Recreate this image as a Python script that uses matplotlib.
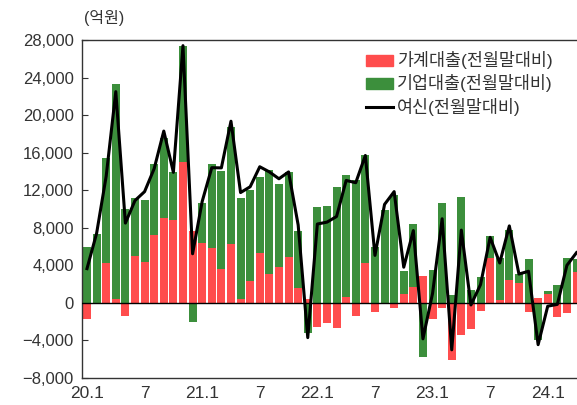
import numpy as np
import matplotlib
matplotlib.use("Agg")
import matplotlib.pyplot as plt
from matplotlib.patches import Patch
from matplotlib.lines import Line2D

plt.rcParams['font.family'] = ['Liberation Sans', 'Noto Sans CJK KR', 'DejaVu Sans']

# monthly change vs previous month-end, 2020.1 - 2024.4 (억원)
household = [-1700, 0, 4200, 400, -1400, 4950, 4400, 7200, 9050, 8800,
             15050, 7700, 6350, 5800, 3650, 6250, 450, 2300, 5300, 3050,
             3850, 4850, 1600, 400, -2600, -2150, -2700, 600, -1350, 4200,
             -970, 0, -550, 960, 1670, 2880, -1700, -530, -6100, -3420,
             -2820, -840, 4800, 270, 2470, 2100, -980, 520, 900, -1500,
             -1050, 3300]
corporate = [5900, 7350, 11200, 22950, 10030, 6230, 6570, 7590, 8550, 5100,
             12350, -2040, 4280, 8950, 10390, 12510, 10710, 9770, 8100, 11130,
             8770, 9080, 6020, -3250, 10200, 10310, 12330, 12980, 13100, 11500,
             5950, 9880, 11500, 2480, 6780, -5720, 3460, 10670, 800, 11230,
             1400, 2750, 2320, 4530, 5330, 950, 4670, -4000, 340, 1870,
             4730, 1420]
credit = [3650, 7400, 13500, 22500, 8500, 10900, 11850, 14300, 18300, 13900,
          27400, 5230, 10800, 14400, 14380, 19350, 11750, 12370, 14500, 13950,
          13220, 13950, 8300, -3700, 8400, 8600, 9200, 13040, 12800, 15700,
          5060, 10490, 11850, 3800, 7700, -3830, 1000, 8960, -5000, 7750,
          -220, 1950, 6980, 4250, 8200, 3070, 3370, -4450, -350, -160,
          4000, 5350]
tick_labels = ["20.1", "7", "21.1", "7", "22.1", "7", "23.1", "7", "24.1"]

RED = "#FF4D4D"
GREEN = "#3C8F3C"

hh = np.array(household, dtype=float)
co = np.array(corporate, dtype=float)
x = np.arange(len(hh))

# stack corporate on top of household only when both have the same sign
co_bottom = np.where(np.sign(hh) == np.sign(co), hh, 0)

fig = plt.figure(figsize=(5.77, 4.05), dpi=100)
ax = fig.add_axes([82 / 577, 27 / 405, 1 - 82 / 577, 338 / 405])

ax.bar(x, hh, width=0.83, color=RED, zorder=2)
ax.bar(x, co, bottom=co_bottom, width=0.83, color=GREEN, zorder=2)
ax.plot(x, credit, color="black", lw=2.2, zorder=4)
ax.axhline(0, color="black", lw=1.0, zorder=3)

ax.set_xlim(-0.52, 51.05)
ax.set_ylim(-8000, 28000)
ax.set_yticks(np.arange(-8000, 28001, 4000))
ax.set_yticklabels([f"{v:,}".replace("-", "\u2212") for v in range(-8000, 28001, 4000)])
ax.set_xticks(np.arange(0, 49, 6))
ax.set_xticklabels(tick_labels)

ax.tick_params(axis="y", direction="in", length=4, labelsize=12, colors="#333333", pad=6)
ax.tick_params(axis="x", length=0, labelsize=12.5, colors="#333333", pad=6)
for side in ["left", "top", "bottom"]:
    ax.spines[side].set_color("#333333")
    ax.spines[side].set_linewidth(1.0)
ax.spines["right"].set_visible(False)

fig.text(84 / 577, 1 - 18 / 405, "(억원)", fontsize=11.5, color="#333333", va="center", ha="left")

handles = [Patch(color=RED), Patch(color=GREEN), Line2D([], [], color="black", lw=2.2)]
labels = ["가계대출(전월말대비)", "기업대출(전월말대비)", "여신(전월말대비)"]
ax.legend(handles, labels, loc="upper left", bbox_to_anchor=(0.55, 1.0), frameon=False,
          fontsize=12.5, handlelength=1.6, handleheight=0.6, handletextpad=0.2,
          labelspacing=0.3, borderaxespad=0.25, labelcolor="#333333")

fig.savefig("out.png", dpi=100)
